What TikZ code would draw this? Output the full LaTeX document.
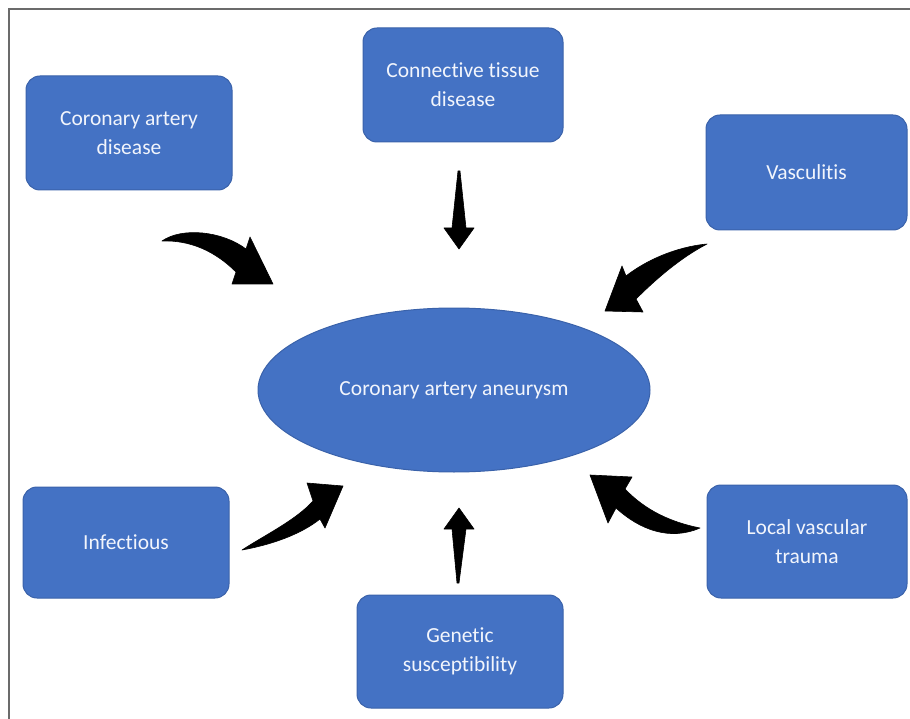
\documentclass[tikz,border=0pt]{standalone}
\usepackage{fontspec}
\setmainfont{Carlito}[Ligatures=NoCommon]
\usetikzlibrary{shapes.geometric}
\definecolor{boxblue}{HTML}{4472C4}
\definecolor{boxedge}{HTML}{3A62AA}
\definecolor{framegray}{HTML}{6B6B6B}
\definecolor{txt}{HTML}{F2F5FC}
\begin{document}
\begin{tikzpicture}[x=1pt,y=-1pt,
  cause/.style={draw=boxedge, line width=1pt, fill=boxblue, rounded corners=14pt,
    text=txt, font=\fontsize{21.5}{29}\selectfont, align=center, inner sep=0pt},
  centre/.style={ellipse, draw=boxedge, line width=1pt, fill=boxblue,
    text=txt, font=\fontsize{21.5}{29}\selectfont, inner sep=0pt,
    minimum width=392pt, minimum height=164pt},
  bigarrow/.style={fill=black, draw=black, line width=0.6pt, line join=round}]
\useasboundingbox (0,0) rectangle (910,719);
\fill[white] (0,0) rectangle (910,719);
% frame
\draw[framegray, line width=2pt] (910,9) -- (9,9) -- (9,719);

% nodes
\node[centre] (caa) at (454,390) {Coronary artery aneurysm};
\node[cause, minimum width=206pt, minimum height=114pt] (cad) at (129,133) {Coronary artery\\disease};
\node[cause, minimum width=200pt, minimum height=114pt] (ctd) at (463,85) {Connective tissue\\disease};
\node[cause, minimum width=201pt, minimum height=115pt] (vas) at (806.5,172.5) {Vasculitis};
\node[cause, minimum width=206pt, minimum height=111pt] (inf) at (126,542.5) {Infectious};
\node[cause, minimum width=206pt, minimum height=113pt] (gen) at (460,651.5) {Genetic\\susceptibility};
\node[cause, minimum width=200pt, minimum height=113pt] (lvt) at (807,541.5) {Local vascular\\trauma};

% arrows (tapered block arrows)
% coronary artery disease -> aneurysm
\fill[bigarrow] (162,241) .. controls (182,227) and (222,231) .. (246,249)
  -- (250,237) -- (273,284) -- (232,284) -- (236,272)
  .. controls (215,251) and (190,240) .. cycle;
% connective tissue disease -> aneurysm
\fill[bigarrow] (458,171) -- (460,171) -- (466,228) -- (474,228) -- (459,249)
  -- (444,228) -- (452,228) -- cycle;
% vasculitis -> aneurysm
\fill[bigarrow] (707,244) .. controls (675,247) and (645,261) .. (626,276)
  -- (622,266) -- (605,311) -- (643,312) -- (636,299)
  .. controls (655,280) and (680,258) .. cycle;
% infectious -> aneurysm
\fill[bigarrow] (242,550) .. controls (265,535) and (296,520) .. (313,501)
  -- (307,483) -- (343,486) -- (325,528) -- (320,519)
  .. controls (300,535) and (270,545) .. cycle;
% genetic susceptibility -> aneurysm
\fill[bigarrow] (457,583) -- (459,583) -- (466,529) -- (474,529) -- (459,508)
  -- (444,529) -- (452,529) -- cycle;
% local vascular trauma -> aneurysm
\fill[bigarrow] (700,528) .. controls (670,522) and (645,510) .. (625,489)
  -- (632,477) -- (590,475) -- (608,523) -- (616,508)
  .. controls (640,530) and (670,541) .. cycle;
\end{tikzpicture}
\end{document}
